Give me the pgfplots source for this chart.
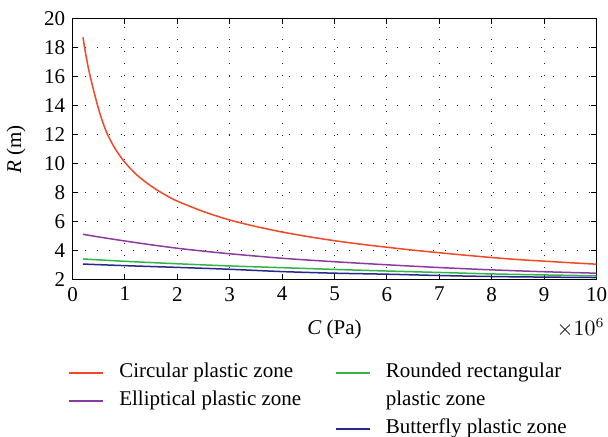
\documentclass[border=0pt]{standalone}
\usepackage{pgfplots}
\pgfplotsset{compat=1.18}
\usepackage{fontspec}
\setmainfont{Liberation Serif}
\definecolor{cred}{RGB}{240,72,40}
\definecolor{cpurple}{RGB}{140,60,160}
\definecolor{cgreen}{RGB}{50,180,70}
\definecolor{cblue}{RGB}{40,40,140}
\begin{document}
\fontsize{10.5}{12.5}\selectfont
\begin{tikzpicture}
\path[use as bounding box] (-36.25pt,-78.15pt) rectangle (267.75pt,139.85pt);
\begin{axis}[
  width=262pt, height=130.5pt, scale only axis,
  at={(0,0)}, anchor=south west,
  clip=false,
  xmin=0, xmax=10, ymin=2, ymax=20,
  xtick={0,1,...,10}, ytick={2,4,...,20},
  /pgf/number format/assume math mode=true,
  tick style={black, line width=0.5pt},
  major tick length=2.8pt,
  tick align=inside,
  axis line style={line width=0.65pt},
  grid=major,
  grid style={black!85, line width=0.55pt, dash pattern=on 0.6pt off 5.4pt},
  xlabel={\textit{C} (Pa)},
  ylabel={\textit{R} (m)},
  xlabel style={yshift=-2pt},
  ylabel style={yshift=2pt},
  legend columns=2,
  legend style={draw=none, fill=none, inner sep=0pt, at={(0,0)}, anchor=north west, xshift=-2.1pt, yshift=-39.4pt,
    column sep=0pt, row sep=0pt,
    nodes={inner xsep=3.5pt, inner ysep=2pt, text height=7.5pt, text depth=2.5pt, anchor=west},
    /tikz/every even column/.append style={column sep=13.5pt}},
  legend cell align=left,
  legend image code/.code={\draw[#1] (0pt,0pt) -- (17pt,0pt); \path (21pt,0pt);},
]
\addlegendimage{cred, line width=0.8pt}
\addlegendentry{Circular plastic zone}
\addlegendimage{cgreen, line width=0.8pt}
\addlegendentry{Rounded rectangular}
\addlegendimage{cpurple, line width=0.8pt}
\addlegendentry{Elliptical plastic zone}
\addlegendimage{empty legend}
\addlegendentry{plastic zone}
\addlegendimage{empty legend}
\addlegendentry{}
\addlegendimage{cblue, line width=0.8pt}
\addlegendentry{Butterfly plastic zone}

\addplot[cred, line width=0.75pt, smooth, forget plot] coordinates {
(0.2,18.72) (0.25,17.6) (0.3,16.65) (0.35,15.85) (0.4,15.1) (0.48,14.0) (0.55,13.15) (0.6,12.63) (0.67,12.0) (0.75,11.44) (0.85,10.83) (1.0,10.09) (1.2,9.32) (1.4,8.72) (1.6,8.22) (1.8,7.79) (2.0,7.42) (2.5,6.70) (3,6.12) (3.5,5.67) (4,5.29) (4.5,4.97) (5,4.69) (5.5,4.45) (6,4.24) (6.5,4.04) (7,3.86) (7.5,3.69) (8,3.53) (8.5,3.39) (9,3.28) (9.5,3.17) (10,3.07)};
\addplot[cpurple, line width=0.75pt, smooth, forget plot] coordinates {
(0.2,5.13) (0.5,4.95) (1,4.67) (1.5,4.41) (2,4.17) (2.5,3.97) (3,3.79) (4,3.48) (5,3.24) (6,3.03) (7,2.84) (8,2.68) (9,2.55) (10,2.45)};
\addplot[cgreen, line width=0.75pt, smooth, forget plot] coordinates {
(0.2,3.43) (1,3.27) (2,3.10) (3,2.95) (4,2.83) (5,2.71) (6,2.6) (7,2.5) (8,2.4) (9,2.33) (10,2.27)};
\addplot[cblue, line width=0.75pt, smooth, forget plot] coordinates {
(0.2,3.08) (1,2.97) (2,2.85) (3,2.72) (4,2.56) (5,2.45) (6,2.38) (7,2.29) (8,2.22) (9,2.18) (10,2.15)};
\node[anchor=east, inner sep=0pt] at (rel axis cs:1.016,-0.185) {$\times10^{6}$};
\end{axis}
\end{tikzpicture}
\end{document}
